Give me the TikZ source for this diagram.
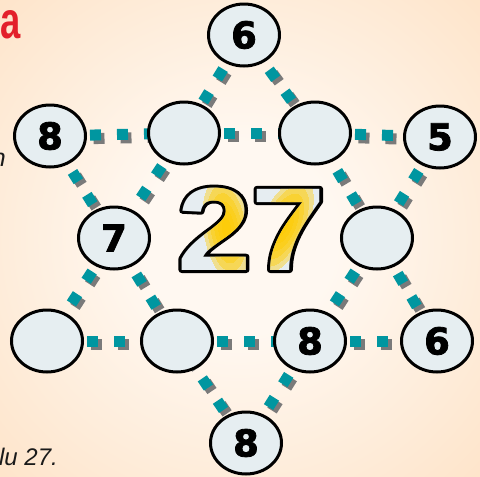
\documentclass[tikz,border=0pt]{standalone}
\usepackage{fontspec}
\setmainfont{Liberation Sans}
\newfontfamily\digitfont{DejaVu Sans}[BoldFeatures={FakeBold=2.2}]
\usetikzlibrary{shapes.geometric}
\definecolor{bgin}{HTML}{FFF8F1}
\definecolor{bgout}{HTML}{FCD0A2}
\definecolor{tealdash}{HTML}{0096A0}
\definecolor{shadowgray}{HTML}{7A7A7A}
\definecolor{nodefill}{HTML}{E6EEF1}
\definecolor{numfill}{HTML}{E6EDF1}
\definecolor{glowyellow}{HTML}{FFCC00}
\definecolor{redA}{HTML}{E3202B}
\definecolor{textdark}{HTML}{1A1A1A}
\pgfdeclareradialshading{bgshade}{\pgfpoint{0bp}{0bp}}{color(0bp)=(bgin); color(10bp)=(bgin); color(62bp)=(bgout); color(80bp)=(bgout)}
\newcommand{\strokeonly}[1]{\special{pdf:literal direct 1 Tr 6 w 1 j 0 0 0 RG}#1\special{pdf:literal direct 0 Tr}}
\pgfdeclarelayer{bgl}
\pgfdeclarelayer{lines}
\pgfsetlayers{bgl,lines,main}
\begin{document}
\begin{tikzpicture}[x=1pt,y=-1pt,
  dashline/.style={line width=11pt, dash pattern=on 11pt off 16pt, dash phase=14pt},
  conn/.style={dashline, draw=tealdash},
  connshadow/.style={dashline, draw=shadowgray},
  spot/.style={ellipse, draw=black, line width=3pt, fill=nodefill,
    minimum width=71pt, minimum height=62pt, inner sep=0pt,
    font=\digitfont\bfseries\fontsize{37}{37}\selectfont},
  bignum/.style={anchor=base west, inner sep=0pt, xscale=1.13,
    font=\bfseries\fontsize{118}{118}\selectfont}]
\useasboundingbox (0,0) rectangle (480,477);
\begin{pgfonlayer}{bgl}
\shade[shading=bgshade] (0,0) rectangle (480,477);
\end{pgfonlayer}

% big 27: black outline underneath, light fill, yellow glow
\node[bignum, text=black] (sumline) at (177,270) {\strokeonly{27}};
\node[bignum, text=numfill] (sum) at (177,270) {27};
\foreach \k in {1.0,0.84,0.68,0.52,0.36,0.2} {
  \begin{scope}
    \clip[rotate around={8:(226,228)}] (226,228) ellipse [x radius=23*\k, y radius=52*\k];
    \node[bignum, text=glowyellow, text opacity=0.4] at (177,270) {2\phantom{7}};
  \end{scope}
  \begin{scope}
    \clip[rotate around={-25:(283,226)}] (283,226) ellipse [x radius=23*\k, y radius=52*\k];
    \node[bignum, text=glowyellow, text opacity=0.4] at (177,270) {\phantom{2}7};
  \end{scope}
}

% nodes
\node[spot] (t6) at (244,35) {6};
\node[spot] (l8) at (50,136) {8};
\node[spot] (e1) at (184,133) {};
\node[spot] (e2) at (315,133) {};
\node[spot] (r5) at (440,137) {5};
\node[spot] (n7) at (114,238) {7};
\node[spot] (e3) at (377,238) {};
\node[spot] (bl) at (47,341) {};
\node[spot] (e4) at (177,341) {};
\node[spot] (n8) at (310,341) {8};
\node[spot] (br) at (437,341) {6};
\node[spot] (b8) at (246,443) {8};

% connectors
\begin{pgfonlayer}{lines}
\foreach \a/\b in {t6/e1,e1/n7,n7/bl,bl/e4,e4/n8,n8/br,br/e3,e3/e2,e2/t6,
                   l8/e1,e1/e2,e2/r5,r5/e3,e3/n8,n8/b8,b8/e4,e4/n7,n7/l8}
  \draw[connshadow] ([shift={(3.5pt,-3.5pt)}]\a.center) -- ([shift={(3.5pt,-3.5pt)}]\b.center);
\foreach \a/\b in {t6/e1,e1/n7,n7/bl,bl/e4,e4/n8,n8/br,br/e3,e3/e2,e2/t6,
                   l8/e1,e1/e2,e2/r5,r5/e3,e3/n8,n8/b8,b8/e4,e4/n7,n7/l8}
  \draw[conn] (\a.center) -- (\b.center);
\end{pgfonlayer}

% side texts
\node[anchor=base west, inner sep=0pt, xscale=0.7, text=redA,
  font=\bfseries\fontsize{52}{52}\selectfont] (reda) at (0,38) {a};
\node[anchor=base east, inner sep=0pt, text=textdark,
  font=\itshape\fontsize{25}{25}\selectfont] (frag) at (6,166) {n};
\node[anchor=base east, inner sep=0pt, text=textdark,
  font=\itshape\fontsize{24}{24}\selectfont] (cap) at (58,465) {lu 27.};
\end{tikzpicture}
\end{document}
